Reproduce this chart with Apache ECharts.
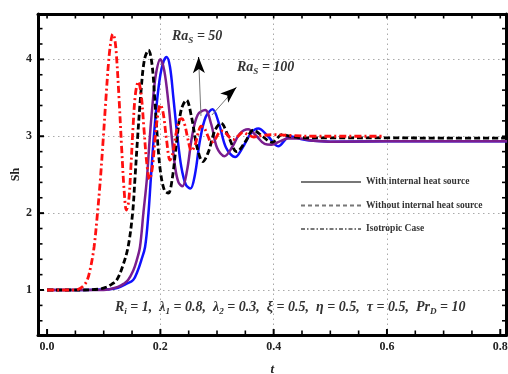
<!DOCTYPE html>
<html>
<head>
<meta charset="utf-8">
<script src="https://cdn.jsdelivr.net/npm/echarts@6/dist/echarts.min.js"></script>
<style>
  html, body { margin: 0; padding: 0; background: #fff; }
  #chart { width: 508px; height: 374px; }
</style>
</head>
<body>
<div id="chart"></div>
<script>
// Sherwood number Sh versus time t

// Isotropic case
const tIso = [0, 0.02, 0.04, 0.05, 0.058, 0.065, 0.071, 0.077, 0.083, 0.089, 0.094, 0.099, 0.104, 0.109, 0.113, 0.116, 0.119, 0.122, 0.127, 0.132, 0.136, 0.140, 0.144, 0.148, 0.152, 0.156, 0.161, 0.166, 0.171, 0.176, 0.181, 0.186, 0.191, 0.196, 0.200, 0.205, 0.211, 0.217, 0.222, 0.228, 0.233, 0.238, 0.243, 0.249, 0.255, 0.261, 0.267, 0.272, 0.278, 0.284, 0.290, 0.296, 0.303, 0.310, 0.317, 0.323, 0.329, 0.337, 0.346, 0.355, 0.365, 0.38, 0.40, 0.43, 0.47, 0.52, 0.595];
const shIso = [1, 1, 1, 1, 1.02, 1.06, 1.13, 1.3, 1.56, 2.0, 2.43, 2.95, 3.5, 4.0, 4.25, 4.33, 4.28, 4.1, 3.5, 2.8, 2.3, 2.04, 2.15, 2.6, 3.15, 3.55, 3.71, 3.55, 3.1, 2.65, 2.44, 2.6, 3.0, 3.3, 3.41, 3.3, 2.95, 2.69, 2.78, 3.05, 3.2, 3.23, 3.15, 2.95, 2.81, 2.88, 3.05, 3.13, 3.1, 3.0, 2.92, 2.95, 3.04, 3.07, 3.03, 2.98, 2.96, 3.0, 3.05, 3.02, 2.99, 3.01, 3.02, 3.01, 3.0, 3.0, 3.0];

// Without internal heat source
const tNoSrc = [0, 0.05, 0.09, 0.105, 0.115, 0.123, 0.133, 0.143, 0.151, 0.155, 0.160, 0.166, 0.172, 0.179, 0.185, 0.190, 0.195, 0.200, 0.207, 0.214, 0.221, 0.229, 0.237, 0.246, 0.255, 0.265, 0.275, 0.285, 0.296, 0.307, 0.320, 0.335, 0.350, 0.364, 0.380, 0.397, 0.415, 0.43, 0.45, 0.5, 0.6, 0.7, 0.812];
const shNoSrc = [1, 1, 1.01, 1.04, 1.08, 1.13, 1.3, 1.56, 2.0, 2.43, 3.0, 3.6, 4.0, 4.12, 3.95, 3.5, 2.95, 2.55, 2.3, 2.26, 2.45, 2.95, 3.35, 3.47, 3.25, 2.85, 2.67, 2.8, 3.07, 3.17, 3.0, 2.8, 2.93, 3.08, 3.0, 2.92, 3.02, 3.0, 2.98, 2.98, 2.98, 2.975, 2.975];

// With internal heat source, Ra_S = 50
const tRa50 = [0, 0.05, 0.10, 0.11, 0.125, 0.135, 0.143, 0.152, 0.158, 0.164, 0.170, 0.176, 0.181, 0.186, 0.192, 0.200, 0.207, 0.214, 0.220, 0.226, 0.232, 0.239, 0.247, 0.256, 0.266, 0.279, 0.290, 0.300, 0.313, 0.326, 0.340, 0.355, 0.370, 0.384, 0.396, 0.410, 0.425, 0.446, 0.47, 0.5, 0.6, 0.7, 0.812];
const shRa50 = [1, 1, 1, 1.01, 1.04, 1.08, 1.13, 1.25, 1.38, 1.56, 2.0, 2.43, 2.95, 3.4, 3.8, 4.0, 3.85, 3.45, 3.0, 2.6, 2.4, 2.35, 2.55, 3.0, 3.28, 3.34, 3.15, 2.85, 2.74, 2.85, 3.03, 3.09, 3.0, 2.9, 2.89, 2.93, 2.97, 2.97, 2.94, 2.93, 2.935, 2.935, 2.935];

// With internal heat source, Ra_S = 100
const tRa100 = [0, 0.05, 0.11, 0.125, 0.14, 0.152, 0.160, 0.166, 0.173, 0.179, 0.183, 0.188, 0.194, 0.200, 0.206, 0.211, 0.217, 0.223, 0.230, 0.237, 0.245, 0.253, 0.261, 0.270, 0.280, 0.292, 0.304, 0.316, 0.332, 0.345, 0.360, 0.373, 0.390, 0.408, 0.429, 0.45, 0.47, 0.5, 0.6, 0.7, 0.812];
const shRa100 = [1, 1, 1.01, 1.03, 1.08, 1.13, 1.25, 1.38, 1.56, 2.0, 2.43, 2.95, 3.45, 3.8, 3.98, 4.03, 3.9, 3.5, 3.0, 2.6, 2.37, 2.32, 2.5, 2.95, 3.25, 3.35, 3.15, 2.85, 2.73, 2.85, 3.04, 3.1, 3.0, 2.87, 3.0, 2.96, 2.94, 2.93, 2.935, 2.935, 2.935];

// Axis ticks
const xMajor = [0, 0.2, 0.4, 0.6, 0.8];
const xMinor = [0.05, 0.1, 0.15, 0.25, 0.3, 0.35, 0.45, 0.5, 0.55, 0.65, 0.7, 0.75];
const yMajor = [1, 2, 3, 4];
const yMinor = [0.6, 0.8, 1.2, 1.4, 1.6, 1.8, 2.2, 2.4, 2.6, 2.8, 3.2, 3.4, 3.6, 3.8, 4.2, 4.4];
const xGrid = [0.2, 0.4, 0.6];
const yGrid = [1, 2, 3, 4];

const legendNames = ['With internal heat source', 'Without internal heat source', 'Isotropic Case'];

const XMIN = -0.016, XMAX = 0.811, YMIN = 0.415, YMAX = 4.59;
const SERIF = '"Liberation Serif", "DejaVu Serif", serif';

const GRID = { left: 38, right: 1.5, top: 14, bottom: 39 };

const pairs = (ts, ys) => ts.map((t, i) => [t, ys[i]]);

const frameLine = { show: true, onZero: false, lineStyle: { color: '#000', width: 3 } };

function frameAxis(extra) {
  return Object.assign({
    type: 'value',
    splitLine: { show: false },
    axisLine: frameLine,
    axisLabel: { show: false },
    axisTick: { show: false }
  }, extra);
}

const chart = echarts.init(document.getElementById('chart'), null, { renderer: 'canvas' });

const curve = (name, ts, ys, color, width, type, z) => ({
  name: name,
  type: 'line',
  data: pairs(ts, ys),
  smooth: 0.35,
  symbol: 'none',
  z: z,
  lineStyle: { color: color, width: width, type: type },
  silent: true
});

const legendSeries = (name, type) => ({
  name: name,
  type: 'line',
  data: [],
  symbol: 'none',
  lineStyle: { color: '#777', width: 1, type: type },
  itemStyle: { color: '#777' }
});

const richText = (size) => ({
  a: { fontFamily: SERIF, fontStyle: 'italic', fontWeight: 'bold', fontSize: size, lineHeight: size + 5, fill: '#333' },
  s: { fontFamily: SERIF, fontStyle: 'italic', fontWeight: 'bold', fontSize: size * 0.65, lineHeight: 9, verticalAlign: 'bottom', fill: '#333' }
});

const textElements = [
  {
    type: 'text', left: 172, top: 29, silent: true,
    style: { text: '{a|Ra}{s|S}{a| = 50}', rich: richText(14) }
  },
  {
    type: 'text', left: 237, top: 60, silent: true,
    style: { text: '{a|Ra}{s|S}{a| = 100}', rich: richText(14) }
  },
  {
    type: 'text', left: 115, top: 300, silent: true,
    style: {
      text: '{a|R}{s|i}{a| = 1,  λ}{s|1}{a| = 0.8,  λ}{s|2}{a| = 0.3,  ξ = 0.5,  η = 0.5,  τ = 0.5,  Pr}{s|D}{a| = 10}',
      rich: richText(14)
    }
  }
];

const option = {
  animation: false,
  backgroundColor: '#fff',
  grid: Object.assign({ outerBoundsMode: 'none', containLabel: false, show: false }, GRID),
  xAxis: [
    frameAxis({
      min: XMIN, max: XMAX, position: 'bottom',
      axisLabel: {
        show: true, customValues: xMajor, margin: 6,
        formatter: v => v.toFixed(1),
        fontFamily: SERIF, fontWeight: 'bold', fontSize: 12, color: '#222'
      },
      name: 't', nameLocation: 'middle', nameGap: 28, nameMoveOverlap: false,
      nameTextStyle: { fontFamily: SERIF, fontStyle: 'italic', fontWeight: 'bold', fontSize: 13, color: '#222' }
    }),
    frameAxis({ min: XMIN, max: XMAX, position: 'top' })
  ],
  yAxis: [
    frameAxis({
      min: YMIN, max: YMAX, position: 'left',
      axisLabel: {
        show: true, customValues: yMajor, margin: 6,
        fontFamily: SERIF, fontWeight: 'bold', fontSize: 12, color: '#222'
      },
      name: 'Sh', nameLocation: 'middle', nameGap: 16, nameMoveOverlap: false,
      nameTextStyle: { fontFamily: SERIF, fontWeight: 'bold', fontSize: 12, color: '#222' }
    }),
    frameAxis({ min: YMIN, max: YMAX, position: 'right' })
  ],
  legend: {
    orient: 'vertical',
    left: 300, top: 177, padding: 0,
    itemWidth: 60, itemHeight: 12, itemGap: 13.5,
    selectedMode: false,
    data: legendNames,
    itemStyle: { color: 'transparent', borderColor: 'transparent', borderWidth: 0, opacity: 0 },
    textStyle: { fontFamily: SERIF, fontWeight: 'bold', fontSize: 9.5, color: '#333' }
  },
  series: [
    Object.assign(curve('Ra100', tRa100, shRa100, '#1010ff', 2.5, 'solid', 2), {
      markLine: {
        silent: true, symbol: 'none', z: 1, animation: false,
        label: { show: false },
        lineStyle: { color: '#aaa', width: 1, type: [1.5, 3.5] },
        data: xGrid.map(v => ({ xAxis: v })).concat(yGrid.map(v => ({ yAxis: v })))
      }
    }),
    curve('Ra50', tRa50, shRa50, '#7a1e8e', 2.5, 'solid', 3),
    Object.assign(curve('NoSource', tNoSrc, shNoSrc, '#000', 2.8, [6, 3], 4), {
      markLine: {
        silent: true, animation: false, z: 6,
        label: { show: false },
        data: [
          // pointer lines towards the Ra_S labels
          [{ coord: [0.2717, 3.263], symbol: 'none', lineStyle: { color: '#777', width: 1, type: 'solid' } },
           { coord: [0.2675, 4.02], symbol: 'none' }],
          [{ coord: [0.2678, 3.90], symbol: 'none', lineStyle: { color: '#000', width: 1, type: 'solid' } },
           { coord: [0.2675, 4.03], symbol: 'arrow', symbolSize: [9, 16] }],
          [{ coord: [0.291, 3.276], symbol: 'none', lineStyle: { color: '#777', width: 1, type: 'solid' } },
           { coord: [0.334, 3.633], symbol: 'none' }],
          [{ coord: [0.3264, 3.584], symbol: 'none', lineStyle: { color: '#000', width: 1, type: 'solid' } },
           { coord: [0.334, 3.633], symbol: 'arrow', symbolSize: [9, 16] }]
        ]
      }
    }),
    curve('Isotropic', tIso, shIso, '#ff1010', 2.8, [7, 3, 2, 3], 5),
    legendSeries(legendNames[0], 'solid'),
    legendSeries(legendNames[1], [4, 3]),
    legendSeries(legendNames[2], [4, 2, 1.5, 2])
  ],
  graphic: textElements
};

chart.setOption(option);

// Inward tick marks on the four sides of the frame, placed through the axis scales
try {
  const toPx = (x, y) => chart.convertToPixel({ gridIndex: 0 }, [x, y]);
  const tick = (x1, y1, x2, y2, w) => ({
    type: 'line', silent: true, z: 10,
    shape: { x1: x1, y1: y1, x2: x2, y2: y2 },
    style: { stroke: '#000', lineWidth: w }
  });
  const BIG = 6, SMALL = 4.5;
  const ticks = [];
  xMajor.concat(xMinor).forEach(v => {
    const isMajor = xMajor.indexOf(v) >= 0;
    const b = toPx(v, YMIN), t = toPx(v, YMAX);
    ticks.push(tick(b[0], b[1], b[0], b[1] - (isMajor ? BIG : SMALL), isMajor ? 2 : 1.6));
    ticks.push(tick(t[0], t[1], t[0], t[1] + SMALL, 1.6));
  });
  yMajor.concat(yMinor).forEach(v => {
    const isMajor = yMajor.indexOf(v) >= 0;
    const l = toPx(XMIN, v), r = toPx(XMAX, v);
    ticks.push(tick(l[0], l[1], l[0] + (isMajor ? BIG : SMALL), l[1], isMajor ? 2 : 1.6));
    ticks.push(tick(r[0], r[1], r[0] - SMALL, r[1], 1.6));
  });
  chart.setOption({ graphic: textElements.concat(ticks) });
} catch (e) {
  // keep the chart without frame ticks
}
</script>
</body>
</html>
